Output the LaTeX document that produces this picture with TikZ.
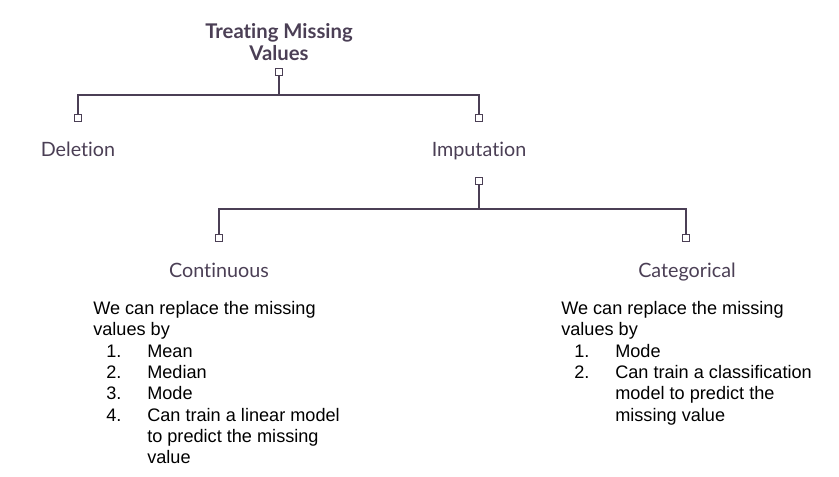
\documentclass[tikz,border=0pt]{standalone}
\usepackage{fontspec}
\setmainfont{Liberation Sans}
\newfontfamily\headfont[RawFeature={-liga;-dlig;-calt}]{Lato}
\usetikzlibrary{positioning}
\definecolor{plum}{HTML}{4B3F55}
\newcommand{\numitem}[2]{\hspace*{9.75pt}\makebox[30.75pt][l]{#1}#2}
\newcommand{\contline}[1]{\hspace*{40.5pt}#1}

\begin{document}
\begin{tikzpicture}[x=0.75pt,y=-0.75pt,
  head/.style={text=plum,font=\headfont\fontsize{14.8}{16.5}\selectfont,inner sep=0pt},
  knob/.style={draw=plum,fill=white,line width=0.6pt,minimum size=5pt,inner sep=0pt},
  body/.style={font=\fontsize{13.6}{16}\selectfont,align=left,inner sep=0pt,anchor=north west},
  tie/.style={draw=plum,line width=0.9pt}]
\useasboundingbox (0,0) rectangle (839,476);
% tree
\node[head,font=\headfont\bfseries\fontsize{15.2}{16.5}\selectfont,align=center,anchor=south] (root) at (279,61) {Treating Missing\\Values};
\node[knob] (k_root) at (279,72) {};
\node[knob] (k_del)  at (78,118) {};
\node[knob] (k_imp)  at (479,118) {};
\node[head,anchor=base] (del) at (78,156.5) {Deletion};
\node[head,anchor=base] (imp) at (479,156.5) {Imputation};
\node[knob] (k_impout) at (479,181) {};
\node[knob] (k_con) at (219,238) {};
\node[knob] (k_cat) at (686,238) {};
\node[head,anchor=base] (con) at (219,277) {Continuous};
\node[head,anchor=base] (cat) at (687,277) {Categorical};
\coordinate (j_root) at (279,95);
\coordinate (j_imp) at (479,209);

\path[tie] (k_root) -- (j_root) -| (k_del)
           (j_root) -| (k_imp)
           (k_impout) -- (j_imp) -| (k_con)
           (j_imp) -| (k_cat);
% notes
\node[body] (con_txt) at (93,301) {We can replace the missing\\ values by\\
  \numitem{1.}{Mean}\\ \numitem{2.}{Median}\\ \numitem{3.}{Mode}\\
  \numitem{4.}{Can train a linear model}\\ \contline{to predict the missing}\\ \contline{value}};
\node[body] (cat_txt) at (561,301) {We can replace the missing\\ values by\\
  \numitem{1.}{Mode}\\ \numitem{2.}{Can train a classification}\\
  \contline{model to predict the}\\ \contline{missing value}};
\end{tikzpicture}
\end{document}
